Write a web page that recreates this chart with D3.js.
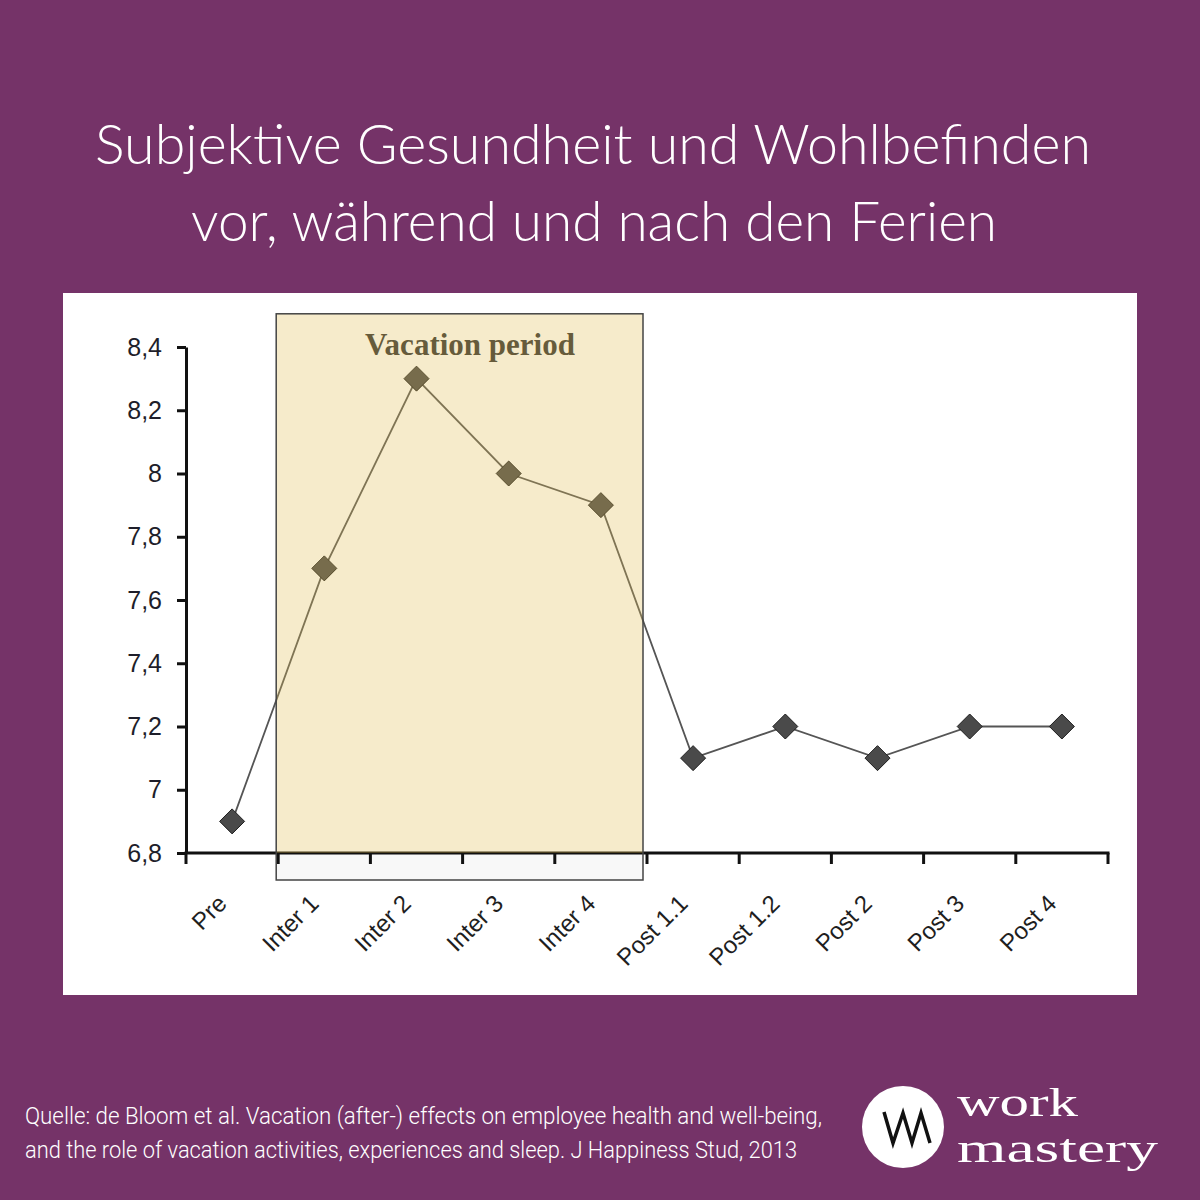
<!DOCTYPE html>
<html>
<head>
  <meta charset="utf-8">
  <style>
    body { margin: 0; background: #753368; }
    svg { display: block; }
  </style>
</head>
<body>

  <div id="chart"></div>

  <script src="https://d3js.org/d3.v7.min.js"></script>

  <script>
    // data
    var categories = ['Pre', 'Inter 1', 'Inter 2', 'Inter 3', 'Inter 4',
                      'Post 1.1', 'Post 1.2', 'Post 2', 'Post 3', 'Post 4'];
    var values = [6.9, 7.7, 8.3, 8.0, 7.9, 7.1, 7.2, 7.1, 7.2, 7.2];
    var yTicks = [6.8, 7, 7.2, 7.4, 7.6, 7.8, 8, 8.2, 8.4];
    var vacation = ['Inter 1', 'Inter 4'];

    var width = 1200, height = 1200;

    var svg = d3.select('#chart')
        .append('svg')
        .attr('width', width)
        .attr('height', height);

    svg.append('rect')
        .attr('width', width).attr('height', height)
        .attr('fill', '#753368');

    // title
    var title = svg.append('g')
        .attr('fill', '#fff')
        .attr('font-family', 'Lato, "Open Sans", sans-serif')
        .attr('font-weight', 300)
        .attr('font-size', 56)
        .attr('text-anchor', 'middle');
    title.append('text').attr('x', 593).attr('y', 164)
        .attr('textLength', 996).attr('lengthAdjust', 'spacingAndGlyphs')
        .text('Subjektive Gesundheit und Wohlbefinden');
    title.append('text').attr('x', 594).attr('y', 241)
        .attr('textLength', 806).attr('lengthAdjust', 'spacingAndGlyphs')
        .text('vor, während und nach den Ferien');

    // white panel
    svg.append('rect')
        .attr('x', 63).attr('y', 293)
        .attr('width', 1074).attr('height', 702)
        .attr('fill', '#fff');

    var x = d3.scaleBand()
        .domain(categories)
        .range([186, 1108])
        .padding(0);

    var y = d3.scaleLinear()
        .domain([6.8, 8.4])
        .range([853, 347]);

    var fmt = function (v) { return String(+v.toFixed(1)).replace('.', ','); };

    // vacation box, lower part below axis
    var boxX0 = x(vacation[0]) - 2,
        boxX1 = x(vacation[1]) + x.bandwidth() - 4,
        boxTop = y(8.505),
        axisY = y(6.8);

    svg.append('rect')
        .attr('x', boxX0).attr('y', boxTop)
        .attr('width', boxX1 - boxX0).attr('height', 880 - boxTop)
        .attr('fill', '#f8f8f8');

    // line
    var line = d3.line()
        .x(function (d, i) { return x(categories[i]) + x.bandwidth() / 2; })
        .y(function (d) { return y(d); });

    svg.append('path')
        .datum(values)
        .attr('d', line)
        .attr('fill', 'none')
        .attr('stroke', '#555')
        .attr('stroke-width', 1.8);

    svg.append('g')
        .selectAll('path')
        .data(values)
        .enter().append('path')
        .attr('transform', function (d, i) {
          return 'translate(' + (x(categories[i]) + x.bandwidth() / 2) + ',' + y(d) + ')';
        })
        .attr('d', 'M0,-12.5L12.5,0L0,12.5L-12.5,0Z')
        .attr('fill', '#4a4a4a')
        .attr('stroke', '#1e1e1e')
        .attr('stroke-width', 1);

    svg.append('text')
        .attr('x', 470).attr('y', 355)
        .attr('text-anchor', 'middle')
        .attr('font-family', '"Liberation Serif", "Times New Roman", serif')
        .attr('font-weight', 'bold')
        .attr('font-size', 31)
        .attr('fill', '#333')
        .text('Vacation period');

    // y axis
    var yAxis = svg.append('g')
        .attr('transform', 'translate(186,0)')
        .call(d3.axisLeft(y).tickValues(yTicks).tickFormat(fmt).tickSize(9).tickSizeOuter(0));
    yAxis.select('.domain').attr('stroke', '#111').attr('stroke-width', 3);
    yAxis.selectAll('.tick line').attr('stroke', '#111').attr('stroke-width', 3);
    yAxis.selectAll('.tick text')
        .attr('x', -24)
        .attr('fill', '#1e1e2a')
        .attr('font-family', '"Liberation Sans", Arial, sans-serif')
        .attr('font-size', 25);

    // x axis: ticks at band edges, labels rotated
    var edges = categories.map(function (c) { return x(c); }).concat([x.range()[1]]);
    var xAxis = svg.append('g');
    xAxis.append('line')
        .attr('x1', x.range()[0] - 1.5).attr('x2', x.range()[1] + 1.5)
        .attr('y1', axisY).attr('y2', axisY)
        .attr('stroke', '#111').attr('stroke-width', 3);
    xAxis.selectAll('line.tk')
        .data(edges)
        .enter().append('line')
        .attr('class', 'tk')
        .attr('x1', function (d) { return d; }).attr('x2', function (d) { return d; })
        .attr('y1', axisY).attr('y2', axisY + 11)
        .attr('stroke', '#111').attr('stroke-width', 3);
    xAxis.selectAll('text')
        .data(categories)
        .enter().append('text')
        .attr('transform', function (d) {
          return 'translate(' + (x(d) + x.bandwidth() / 2 - 4) + ',' + (axisY + 52) + ') rotate(-45)';
        })
        .attr('text-anchor', 'end')
        .attr('font-family', '"Liberation Sans", Arial, sans-serif')
        .attr('font-size', 24)
        .attr('fill', '#1e1e1e')
        .text(function (d) { return d; });

    // yellow tint over the vacation period
    svg.append('rect')
        .attr('x', boxX0).attr('y', boxTop)
        .attr('width', boxX1 - boxX0).attr('height', axisY - boxTop)
        .attr('fill', 'rgb(240,200,80)')
        .attr('fill-opacity', 0.27);

    svg.append('rect')
        .attr('x', boxX0).attr('y', boxTop)
        .attr('width', boxX1 - boxX0).attr('height', 880 - boxTop)
        .attr('fill', 'none')
        .attr('stroke', '#444')
        .attr('stroke-width', 1.5);

    // source
    var src = svg.append('g')
        .attr('fill', '#fff')
        .attr('font-family', 'Roboto, sans-serif')
        .attr('font-weight', 300)
        .attr('font-size', 24);
    src.append('text').attr('x', 25).attr('y', 1124)
        .attr('textLength', 797).attr('lengthAdjust', 'spacingAndGlyphs')
        .text('Quelle: de Bloom et al. Vacation (after-) effects on employee health and well-being,');
    src.append('text').attr('x', 25).attr('y', 1158)
        .attr('textLength', 772).attr('lengthAdjust', 'spacingAndGlyphs')
        .text('and the role of vacation activities, experiences and sleep. J Happiness Stud, 2013');

    // logo
    var logo = svg.append('g');
    logo.append('circle')
        .attr('cx', 903).attr('cy', 1127).attr('r', 41)
        .attr('fill', '#fff');
    logo.append('path')
        .attr('d', 'M884,1112L893,1143L903,1113L912,1143L921,1113L930,1143')
        .attr('fill', 'none')
        .attr('stroke', '#111')
        .attr('stroke-width', 3.5)
        .attr('stroke-linejoin', 'miter');
    var brand = logo.append('g')
        .attr('fill', '#fff')
        .attr('font-family', '"Liberation Serif", serif')
        .attr('font-size', 40);
    brand.append('text').attr('x', 957).attr('y', 1116)
        .attr('textLength', 121).attr('lengthAdjust', 'spacingAndGlyphs')
        .text('work');
    brand.append('text').attr('x', 957).attr('y', 1162)
        .attr('textLength', 201).attr('lengthAdjust', 'spacingAndGlyphs')
        .text('mastery');
  </script>
</body>
</html>
